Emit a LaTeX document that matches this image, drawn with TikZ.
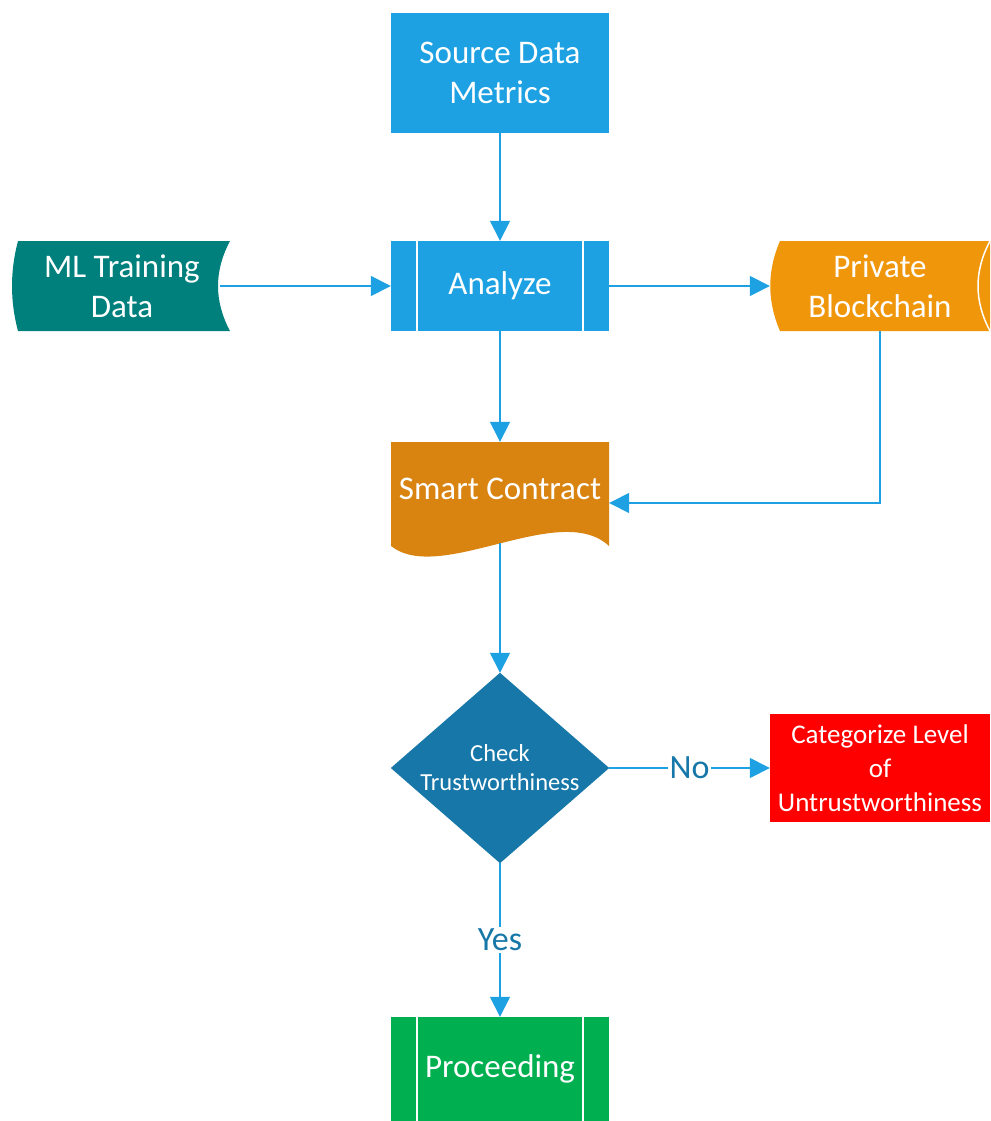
\documentclass[tikz,border=0pt]{standalone}
\usepackage{fontspec}
\setmainfont{Carlito}
\usetikzlibrary{arrows.meta,backgrounds}
\definecolor{skyblue}{RGB}{29,161,226}
\definecolor{tealfill}{RGB}{0,128,124}
\definecolor{amber}{RGB}{240,150,10}
\definecolor{ochre}{RGB}{217,132,16}
\definecolor{steel}{RGB}{22,119,168}
\definecolor{leaf}{RGB}{0,176,80}
\begin{document}
\begin{tikzpicture}[x=1pt,y=-1pt,
  lbl/.style={text=white, font=\fontsize{33}{40}\selectfont, align=center, inner sep=0pt},
  box/.style={lbl, rectangle, fill=skyblue},
  conn/.style={draw=skyblue, line width=1.5pt, -{Triangle[length=20pt,width=20pt]}},
  side/.style={draw=white, line width=2pt},
  tag/.style={fill=white, text=steel, font=\fontsize{34}{40}\selectfont, inner sep=2pt}]
\useasboundingbox (0,0) rectangle (990,1121);

% process boxes
\node[box, minimum width=218pt, minimum height=120pt] (src) at (500,73) {Source Data\\Metrics};
\node[box, minimum width=218pt, minimum height=90pt] (ana) at (500,286) {Analyze};
\draw[side] ([xshift=26pt]ana.north west) -- ([xshift=26pt]ana.south west);
\draw[side] ([xshift=-26pt]ana.north east) -- ([xshift=-26pt]ana.south east);

% stored data, storage and document
\node[lbl, minimum width=196pt, minimum height=90pt] (ml) at (122,286) {ML Training\\Data};
\node[lbl, minimum width=220pt, minimum height=90pt] (pb) at (880,286) {Private\\Blockchain};
\node[lbl, minimum width=218pt, minimum height=94pt] (sc) at (500,489) {Smart Contract};
\coordinate (scb) at (500,543);

% decision
\node[lbl, font=\fontsize{24.5}{29}\selectfont, minimum width=218pt, minimum height=190pt] (chk) at (500,768) {Check\\Trustworthiness};

\node[box, fill=red, font=\fontsize{27}{34}\selectfont, minimum width=220pt, minimum height=108pt] (cat) at (880,768) {Categorize Level\\of\\Untrustworthiness};

\node[box, fill=leaf, minimum width=218pt, minimum height=104pt] (pro) at (500,1069) {Proceeding};
\draw[side] ([xshift=26pt]pro.north west) -- ([xshift=26pt]pro.south west);
\draw[side] ([xshift=-26pt]pro.north east) -- ([xshift=-26pt]pro.south east);

\begin{scope}[on background layer]
  \clip (0,0) rectangle (990,1121);
  \fill[tealfill] (18,241) -- (230,241) .. controls (214,271) and (214,301) .. (230,331)
     -- (18,331) .. controls (10,301) and (10,271) .. (18,241) -- cycle;
  \fill[amber] (780,241) -- (1010,241) -- (1010,331) -- (780,331)
     .. controls (767,301) and (767,271) .. (780,241) -- cycle;
  \draw[white, line width=1.5pt] (990,241) .. controls (974,271) and (974,301) .. (990,331);
  \fill[ochre] (391,442) -- (609,442) -- (609,546)
     .. controls (560,500) and (440,585) .. (391,546) -- cycle;
  \fill[steel] (chk.north) -- (chk.east) -- (chk.south) -- (chk.west) -- cycle;
\end{scope}

% connectors
\draw[conn] (src) -- (ana);
\draw[conn] (ml.east) -- (ana.west);
\draw[conn] (ana.east) -- (pb.west);
\draw[conn] (ana) -- (sc);
\draw[conn] (pb.south) |- ([yshift=-14pt]sc.east);
\draw[conn] (scb) -- (chk.north);
\draw[conn] (chk.east) -- node[tag] (no) {No} (cat.west);
\draw[conn] (chk.south) -- node[tag] (yes) {Yes} (pro.north);
\end{tikzpicture}
\end{document}
